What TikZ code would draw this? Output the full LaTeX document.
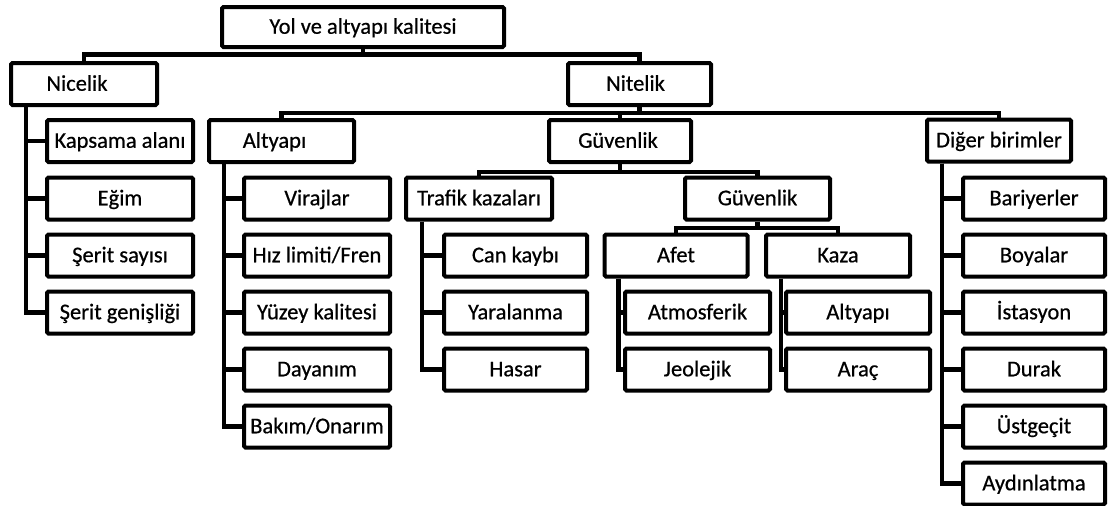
\documentclass[tikz,border=0pt]{standalone}
\usepackage{fontspec}
\setmainfont{Carlito}
\newfontfamily\boxfont{Carlito}[FakeBold=0.6]
\usetikzlibrary{backgrounds,calc}
\begin{document}
\begin{tikzpicture}[x=1pt,y=-1pt,
  box/.style={draw=black, line width=4pt, fill=white, rounded corners=1.5pt,
    inner sep=0pt, minimum height=42pt, text height=17pt, text depth=3.5pt,
    font=\boxfont\fontsize{22.5}{26}\selectfont},
  link/.style={draw=black, line width=4.5pt},
]
\useasboundingbox (0,0) rectangle (1112,506);

% top levels
\node[box, minimum width=282pt, minimum height=40pt] (root) at (363,27) {Yol ve altyapı kalitesi};
\node[box, minimum width=146pt] (nicelik) at (84,84) {Nicelik\hspace*{14pt}};
\node[box, minimum width=143pt] (nitelik) at (639.5,84) {Nitelik\hspace*{8pt}};
\node[box, minimum width=145pt] (altyapi) at (281.5,141) {Altyapı\hspace*{14pt}};
\node[box, minimum width=142pt] (guv) at (620,141) {Güvenlik\hspace*{4pt}};
\node[box, minimum width=144pt] (diger) at (999,140.5) {Diğer birimler};

% Nicelik
\node[box, minimum width=146pt] (kapsama) at (120,141) {Kapsama alanı};
\node[box, minimum width=146pt] (egim) at (120,198.5) {Eğim};
\node[box, minimum width=146pt] (seritsay) at (120,255.5) {Şerit sayısı};
\node[box, minimum width=146pt] (seritgen) at (120,312.5) {Şerit genişliği};

% Altyapı
\node[box, minimum width=146pt] (viraj) at (317,198.5) {Virajlar};
\node[box, minimum width=146pt] (hiz) at (317,255.5) {Hız limiti/Fren};
\node[box, minimum width=146pt] (yuzey) at (317,312.5) {Yüzey kalitesi};
\node[box, minimum width=146pt] (dayanim) at (317,369.5) {Dayanım};
\node[box, minimum width=146pt] (bakim) at (317,426.5) {Bakım/Onarım};

% Güvenlik
\node[box, minimum width=146pt] (trafik) at (479,198.5) {Trafik kazaları};
\node[box, minimum width=145pt] (guv2) at (757.5,198.5) {Güvenlik};
\node[box, minimum width=143pt] (can) at (515.5,255.5) {Can kaybı};
\node[box, minimum width=143pt] (yara) at (515.5,312.5) {Yaralanma};
\node[box, minimum width=143pt] (hasar) at (515.5,369.5) {Hasar};
\node[box, minimum width=143pt] (afet) at (676,255.5) {Afet};
\node[box, minimum width=144pt] (kaza) at (838,255.5) {Kaza};
\node[box, minimum width=145pt] (atmos) at (697.5,312.5) {Atmosferik};
\node[box, minimum width=145pt] (jeo) at (697.5,369.5) {Jeolejik};
\node[box, minimum width=144pt] (alt2) at (858,312.5) {Altyapı};
\node[box, minimum width=144pt] (arac) at (858,369.5) {Araç};

% Diğer birimler
\node[box, minimum width=142pt] (bariyer) at (1034,198.5) {Bariyerler};
\node[box, minimum width=142pt] (boya) at (1034,255.5) {Boyalar};
\node[box, minimum width=142pt] (istasyon) at (1034,312.5) {İstasyon};
\node[box, minimum width=142pt] (durak) at (1034,369.5) {Durak};
\node[box, minimum width=142pt] (ustgecit) at (1034,426.5) {Üstgeçit};
\node[box, minimum width=142pt] (aydin) at (1034,483.5) {Aydınlatma};

% bus levels
\coordinate (b1) at (0,54.5);
\coordinate (b2) at (0,113);
\coordinate (b3) at (0,172);
\coordinate (b4) at (0,228);

\begin{pgfonlayer}{background}
  % tree buses
  \draw[link] (root.south) -- (root.south |- b1) -| (nicelik.north);
  \draw[link] (root.south |- b1) -| (nitelik.north);
  \draw[link] (nitelik.south) -- (nitelik.south |- b2) -| (altyapi.north);
  \draw[link] (nitelik.south |- b2) -| (guv.north);
  \draw[link] (nitelik.south |- b2) -| (diger.north);
  \draw[link] (guv.south) -- (guv.south |- b3) -| (trafik.north);
  \draw[link] (guv.south |- b3) -| (guv2.north);
  \draw[link] (guv2.south) -- (guv2.south |- b4) -| (afet.north);
  \draw[link] (guv2.south |- b4) -| (kaza.north);

  % side lists
  \foreach \c in {kapsama,egim,seritsay,seritgen}
    \draw[link] ($(nicelik.south west)+(17,0)$) |- (\c.west);
  \foreach \c in {viraj,hiz,yuzey,dayanim,bakim}
    \draw[link] ($(altyapi.south west)+(17,0)$) |- (\c.west);
  \foreach \c in {can,yara,hasar}
    \draw[link] ($(trafik.south west)+(18,0)$) |- (\c.west);
  \foreach \c in {atmos,jeo}
    \draw[link] ($(afet.south west)+(16,0)$) |- (\c.west);
  \foreach \c in {alt2,arac}
    \draw[link] ($(kaza.south west)+(17,0)$) |- (\c.west);
  \foreach \c in {bariyer,boya,istasyon,durak,ustgecit,aydin}
    \draw[link] ($(diger.south west)+(17,0)$) |- (\c.west);
\end{pgfonlayer}
\end{tikzpicture}
\end{document}
